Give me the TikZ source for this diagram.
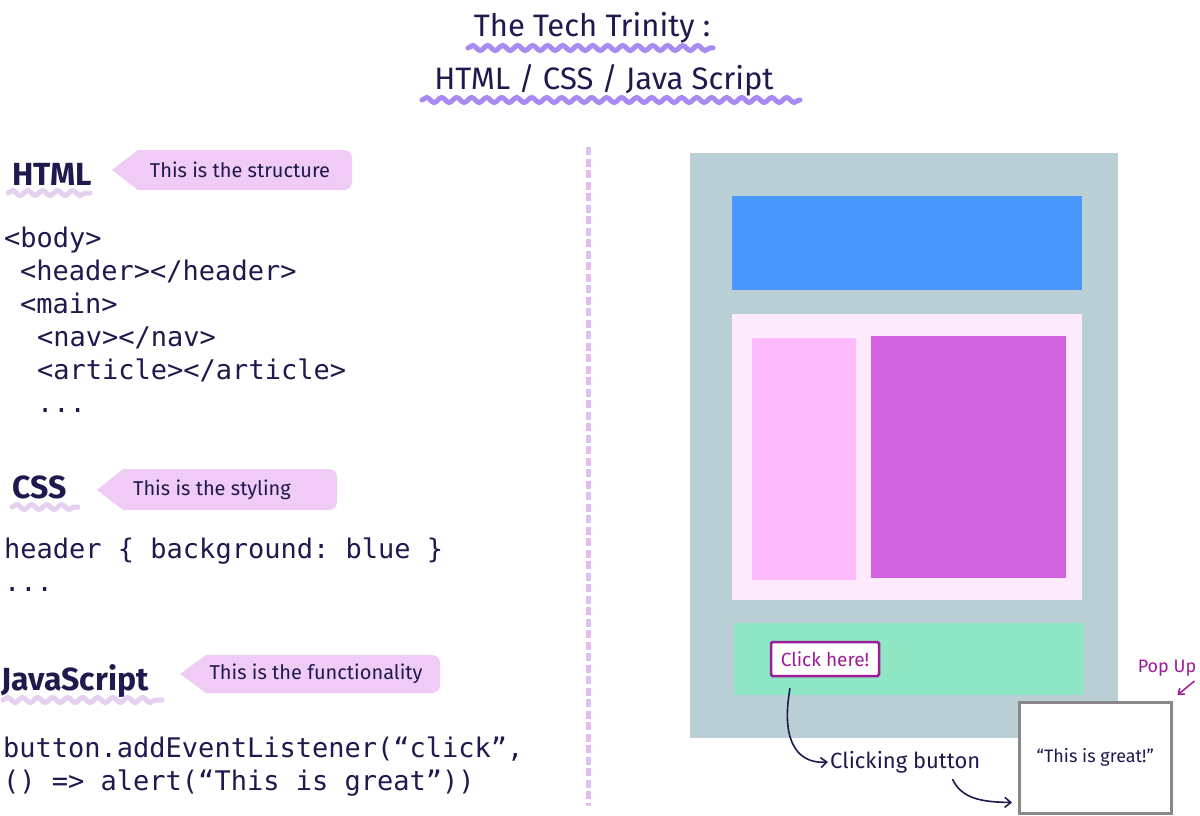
\documentclass[tikz,border=0pt]{standalone}
\usepackage{fontspec}
\setmainfont{Fira Sans}
\setmonofont{DejaVu Sans Mono}
\usetikzlibrary{decorations.pathmorphing,arrows.meta}
\definecolor{navy}{HTML}{1F1A4E}
\definecolor{titlewave}{HTML}{A98AF0}
\definecolor{headwave}{HTML}{E6D0F0}
\definecolor{calloutcol}{HTML}{F0CBF5}
\definecolor{divcol}{HTML}{E0BFF0}
\definecolor{pagegray}{HTML}{BACED5}
\definecolor{headerblue}{HTML}{4A98FE}
\definecolor{mainpink}{HTML}{FDEBFD}
\definecolor{navpink}{HTML}{FDBAFD}
\definecolor{articlepurple}{HTML}{D362DF}
\definecolor{footergreen}{HTML}{8EE6C4}
\definecolor{magentatext}{HTML}{9E1C98}
\definecolor{popgray}{HTML}{888888}
\tikzset{
  codeline/.style={anchor=base west, inner sep=0pt, text=navy, font=\ttfamily\fontsize{27}{27}\selectfont},
  heading/.style={anchor=base west, inner sep=0pt, text=navy, font=\bfseries\fontsize{32}{32}\selectfont},
  titletext/.style={anchor=base, inner sep=0pt, text=navy, font=\fontsize{31}{31}\selectfont},
  wave/.style={line cap=round, decorate, decoration={snake, amplitude=2.5pt, segment length=15pt}},
  callouttext/.style={inner sep=0pt, text=navy, font=\fontsize{20}{20}\selectfont},
  calloutshape/.style={fill=calloutcol, rounded corners=8pt},
  block/.style={inner sep=0pt, anchor=north west},
  hand/.style={text=navy, inner sep=2pt, font=\fontsize{22}{22}\selectfont},
  conn/.style={draw=navy, line width=1.6pt, -{Straight Barb[length=6pt,width=10pt]}},
}
\begin{document}
\begin{tikzpicture}[x=1pt,y=-1pt]
\useasboundingbox[fill=white] (0,0) rectangle (1200,816);

% title
\node[titletext] (t1) at (592,37) {The Tech Trinity :};
\node[titletext] (t2) at (604,89) {HTML / CSS / Java Script};
\draw[wave, draw=titlewave, line width=5pt] (468,48) -- (713,48);
\draw[wave, draw=titlewave, line width=5pt] (422,100) -- (800,100);

% divider
\draw[draw=divcol, line width=5pt, dash pattern=on 8pt off 3.5pt] (588,147) -- (588,806);

% HTML section
\node[heading] (hhtml) at (12,185) {HTML};
\draw[wave, draw=headwave, line width=5pt] (8,193) -- (90,193);
\fill[calloutshape] (112,170) [sharp corners] -- (138,150) [rounded corners=8pt] -- (352,150) -- (352,190) [sharp corners] -- (138,190) -- cycle;
\node[callouttext] (c1) at (240,170) {This is the structure};
\node[codeline] (l1) at (4,247) {<body>};
\node[codeline] (l2) at (20,280) {<header></header>};
\node[codeline] (l3) at (20,313) {<main>};
\node[codeline] (l4) at (37,346) {<nav></nav>};
\node[codeline] (l5) at (37,379) {<article></article>};
\node[codeline] (l6) at (37,412) {...};

% CSS section
\node[heading] (hcss) at (12,498) {CSS};
\draw[wave, draw=headwave, line width=5pt] (12,507) -- (78,507);
\fill[calloutshape] (97,490) [sharp corners] -- (123,469) [rounded corners=8pt] -- (337,469) -- (337,510) [sharp corners] -- (123,510) -- cycle;
\node[callouttext] (c2) at (212,490) {This is the styling};
\node[codeline] (l7) at (4,558) {header \{ background: blue \}};
\node[codeline] (l8) at (4,591) {...};

% JS section
\node[heading] (hjs) at (1,690) {JavaScript};
\draw[wave, draw=headwave, line width=5pt] (3,700) -- (162,700);
\fill[calloutshape] (180,674) [sharp corners] -- (206,655) [rounded corners=8pt] -- (440,655) -- (440,693) [sharp corners] -- (206,693) -- cycle;
\node[callouttext] (c3) at (316,674) {This is the functionality};
\node[codeline] (l9) at (3,757) {button.addEventListener(“click”,};
\node[codeline] (l10) at (3,790) {() => alert(“This is great”))};

% web page mockup
\node[block, fill=pagegray, minimum width=428pt, minimum height=585pt] (page) at (690,153) {};
\node[block, fill=headerblue, minimum width=350pt, minimum height=94pt] (hdr) at (732,196) {};
\node[block, fill=mainpink, minimum width=350pt, minimum height=286pt] (mainb) at (732,314) {};
\node[block, fill=navpink, minimum width=104pt, minimum height=242pt] (nav) at (752,338) {};
\node[block, fill=articlepurple, minimum width=195pt, minimum height=242pt] (art) at (871,336) {};
\node[block, fill=footergreen, minimum width=350pt, minimum height=72pt] (foot) at (734,623) {};
\node[draw=magentatext, line width=2.5pt, fill=white, rounded corners=1.5pt, minimum width=108pt, minimum height=34pt, inner sep=0pt, text=magentatext, font=\fontsize{19}{19}\selectfont] (click) at (825,659) {Click here!};

% popup
\node[block, draw=popgray, line width=2.5pt, fill=white, minimum width=152pt, minimum height=111pt] (popup) at (1018,701) {};
\node[text=navy, font=\fontsize{18}{18}\selectfont] (msg) at (popup.center) {“This is great!”};
\node[text=magentatext, inner sep=0pt, font=\fontsize{18}{18}\selectfont] (pop) at (1167,668) {Pop Up};
\draw[draw=magentatext, line width=1.5pt, -{Straight Barb[length=5pt,width=8pt]}] ([shift={(22,-20)}]popup.north east) -- ([shift={(5,-6)}]popup.north east);

% clicking annotation
\node[hand, anchor=west] (clicking) at (828,762) {Clicking button};
\draw[conn] ([shift={(-35,11)}]click.south) .. controls (780,745) and (800,764) .. (clicking.west);
\draw[conn] ([shift={(-30,4)}]clicking.south east) .. controls (962,800) and (985,802) .. ([shift={(-6,-12)}]popup.south west);
\end{tikzpicture}
\end{document}
